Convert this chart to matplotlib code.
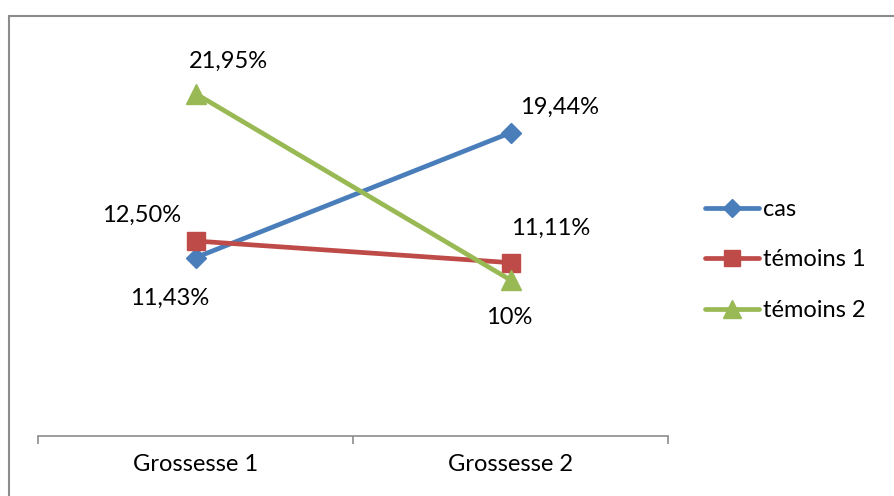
import matplotlib
matplotlib.use("Agg")
import matplotlib.pyplot as plt
from matplotlib.patches import Rectangle

categories = ["Grossesse 1", "Grossesse 2"]
series_names = ["cas", "témoins 1", "témoins 2"]
cas = [11.43, 19.44]
temoins1 = [12.50, 11.11]
temoins2 = [21.95, 10.0]
labels_cas = ["11,43%", "19,44%"]
labels_t1 = ["12,50%", "11,11%"]
labels_t2 = ["21,95%", "10%"]

plt.rcParams['font.family'] = ['Lato', 'DejaVu Sans']
FS = 17

fig = plt.figure(figsize=(8.94, 4.96), dpi=100)
W, H = 894, 496
ax = fig.add_axes([38 / W, 1 - 436 / H, (668 - 38) / W, (436 - 46) / H])

# outer chart border
fig.patches.append(Rectangle((9 / W, -0.05), 1.0, 1 - 16 / H + 0.05,
                             transform=fig.transFigure, fill=False,
                             edgecolor="#8c8c8c", linewidth=1.5))

x = list(range(len(categories)))
styles = [
    (cas, "#4A7EBB", "D", 10.5, labels_cas, [(-26, -41), (49, 25)]),
    (temoins1, "#BE4B48", "s", 13.5, labels_t1, [(-54, 26), (40, 34)]),
    (temoins2, "#98B954", "^", 15, labels_t2, [(33, 32), (-1, -38)]),
]
for (vals, col, mk, ms, labs, offs), name in zip(styles, series_names):
    ax.plot(x, vals, color=col, linewidth=3.4, marker=mk, markersize=ms,
            markeredgecolor=col, markerfacecolor=col, label=name,
            solid_capstyle="round")
    for xi, v, lab, off in zip(x, vals, labs, offs):
        ax.annotate(lab, (xi, v), xytext=off, textcoords="offset pixels",
                    ha="center", va="center", fontsize=FS, color="black")

ax.set_xlim(-0.5, 1.5)
ax.set_ylim(0, 25)
for s in ["left", "right", "top"]:
    ax.spines[s].set_visible(False)
ax.spines["bottom"].set_color("#8c8c8c")
ax.spines["bottom"].set_linewidth(1.2)
ax.set_yticks([])
ax.set_xticks([-0.5, 0.5, 1.5])
ax.set_xticklabels([])
ax.tick_params(axis="x", length=6, width=1.2, color="#8c8c8c")
ax.set_xticks(x, minor=True)
ax.set_xticklabels(categories, minor=True, fontsize=FS)
ax.tick_params(axis="x", which="minor", length=0, pad=13)

leg = fig.legend(loc="center left", bbox_to_anchor=(705 / W, 1 - 260 / H),
                 frameon=False, fontsize=FS, handlelength=2.3,
                 handletextpad=0.15, labelspacing=1.25, borderaxespad=0,
                 borderpad=0, markerscale=0.85)

fig.savefig("out.png", dpi=100)
